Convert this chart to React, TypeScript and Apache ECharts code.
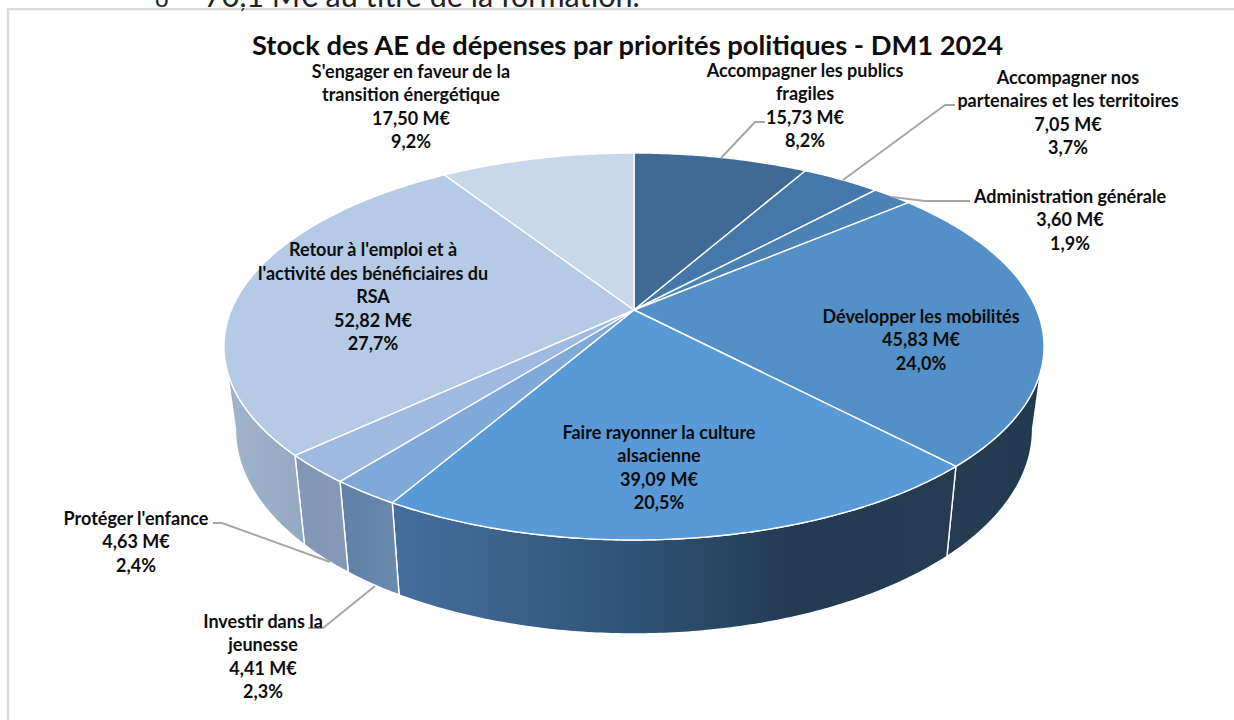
import React, { useEffect, useRef } from "react";
import * as echarts from "echarts";

const titleText = "Stock des AE de dépenses par priorités politiques - DM1 2024";
const headerText = "70,1 M€ au titre de la formation.";

const categories = [
  ["Accompagner les publics", "fragiles"],
  ["Accompagner nos", "partenaires et les territoires"],
  ["Administration générale"],
  ["Développer les mobilités"],
  ["Faire rayonner la culture", "alsacienne"],
  ["Investir dans la", "jeunesse"],
  ["Protéger l'enfance"],
  ["Retour à l'emploi et à", "l'activité des bénéficiaires du", "RSA"],
  ["S'engager en faveur de la", "transition énergétique"],
];
const amounts = [15.73, 7.05, 3.6, 45.83, 39.09, 4.41, 4.63, 52.82, 17.5];
const percents = [8.2, 3.7, 1.9, 24.0, 20.5, 2.3, 2.4, 27.7, 9.2];

const topColors = ["#3e6a94", "#4578a8", "#4c82b5", "#5490c7", "#5999d8", "#7ea9d9", "#9fbae0", "#b5cae5", "#c8d7ea"];
const wallStops: [number, string][][] = [
  [[0, "#233b52"], [1, "#233b52"]],
  [[0, "#233b52"], [1, "#233b52"]],
  [[0, "#233b52"], [1, "#233b52"]],
  [[0, "#253c53"], [1, "#223a50"]],
  [[0, "#446f9d"], [0.43, "#2f5376"], [0.7, "#243c53"], [1, "#243d53"]],
  [[0, "#5f81a7"], [1, "#6a8aae"]],
  [[0, "#8197b6"], [1, "#859ab8"]],
  [[0, "#a3b5cc"], [1, "#94a8c3"]],
  [[0, "#a3b5cc"], [1, "#94a8c3"]],
];

const labelLayout = [
  { x: 805, y: 105 },
  { x: 1068, y: 112 },
  { x: 1070, y: 219 },
  { x: 921, y: 339 },
  { x: 659, y: 467 },
  { x: 263, y: 656 },
  { x: 136, y: 541 },
  { x: 373, y: 296 },
  { x: 411, y: 106 },
];

const leaderLines = [
  [[721, 158], [755, 122], [765, 122]],
  [[843, 180], [945, 105], [955, 105]],
  [[892, 197], [925, 201], [970, 201]],
  [[375, 586], [323, 628], [308, 628]],
  [[330, 562], [222, 523], [213, 523]],
];

const CX = 634;
const CY = 310;
const RX = 402.7;
const RY = 186.6;
const K = 0.1886;
const SHRINK = 0.972;
const WALL_MIN = (Math.PI / 180) * 100.87;
const WALL_MAX = (Math.PI / 180) * 259.13;

function topPoint(t: number): number[] {
  const u = Math.sin(t);
  const v = -Math.cos(t);
  const w = 1 - K * v;
  return [CX + (RX * u) / w, CY + (RY * v) / w];
}
function bottomPoint(t: number): number[] {
  const p = topPoint(t);
  const v = -Math.cos(t);
  return [CX + (p[0] - CX) * SHRINK, p[1] + 80 + 14 * v];
}
function arc(a: number, b: number, f: (t: number) => number[]): number[][] {
  const n = Math.max(2, Math.ceil((b - a) / 0.01));
  const pts: number[][] = [];
  for (let i = 0; i <= n; i++) pts.push(f(a + ((b - a) * i) / n));
  return pts;
}

const total = amounts.reduce((s, v) => s + v, 0);
const starts: number[] = [];
amounts.reduce((acc, v) => {
  starts.push((acc / total) * Math.PI * 2);
  return acc + v;
}, 0);
function angleRange(i: number, value: number): [number, number] {
  return [starts[i], starts[i] + (value / total) * Math.PI * 2];
}

const fr = (v: number, d: number) => v.toFixed(d).replace(".", ",");

export default function App() {
  const ref = useRef<HTMLDivElement>(null);
  useEffect(() => {
    const chart = echarts.init(ref.current!, undefined, { renderer: "svg" });
    const LABEL_FONT = 'bold 18px Lato, "Open Sans", sans-serif';
    const data = amounts.map((v) => [v]);
    chart.setOption({
      animation: false,
      backgroundColor: "#ffffff",
      title: {
        text: titleText,
        left: 622.5,
        top: 26,
        textAlign: "center",
        textStyle: { fontFamily: "Lato", fontWeight: "bold", fontSize: 27.3, color: "#0d0d0d" },
      },
      graphic: [
        {
          type: "rect",
          z: 1,
          shape: { x: 8, y: 9, width: 1240, height: 730 },
          style: { fill: "none", stroke: "#d9d9d9", lineWidth: 2.5 },
        },
        {
          type: "text",
          z: 1,
          x: 155,
          y: 9,
          style: { text: "o", font: "24px Lato", fill: "#222", align: "left", verticalAlign: "bottom" },
        },
        {
          type: "text",
          z: 1,
          x: 204,
          y: 10.5,
          style: { text: headerText, font: "30.5px Lato", fill: "#222", align: "left", verticalAlign: "bottom" },
        },
        {
          type: "rect",
          z: 2,
          shape: { x: 0, y: 7, width: 1234, height: 1 },
          style: { fill: "#ffffff" },
        },
        ...leaderLines.map((points) => ({
          type: "polyline",
          z: 20,
          shape: { points },
          style: { fill: "none", stroke: "#a6a6a6", lineWidth: 2 },
        })),
        ...categories.map((lines, i) => ({
          type: "text",
          z: 30,
          x: labelLayout[i].x,
          y: labelLayout[i].y,
          style: {
            text: [...lines, `${fr(amounts[i], 2)} M€`, `${fr(percents[i], 1)}%`].join("\n"),
            font: LABEL_FONT,
            fill: "#0d0d0d",
            align: "center",
            verticalAlign: "middle",
            lineHeight: 23.5,
          },
        })),
      ],
      series: [
        {
          type: "custom",
          coordinateSystem: "none",
          silent: true,
          z: 2,
          data,
          renderItem: (params: any, api: any) => {
            const i = params.dataIndex;
            const [a0, b0] = angleRange(i, api.value(0));
            const a = Math.max(a0, WALL_MIN);
            const b = Math.min(b0, WALL_MAX);
            if (b <= a) return { type: "group", children: [] };
            const points = [...arc(a, b, topPoint), ...arc(a, b, bottomPoint).reverse()];
            const xs = points.map((p) => p[0]);
            const minX = Math.min(...xs);
            const maxX = Math.max(...xs);
            return {
              type: "polygon",
              shape: { points },
              style: {
                fill: new echarts.graphic.LinearGradient(
                  minX, 0, maxX, 0,
                  wallStops[i].map(([offset, color]) => ({ offset, color })),
                  true
                ),
                stroke: "#ffffff",
                lineWidth: 1.4,
              },
            };
          },
        },
        {
          type: "custom",
          coordinateSystem: "none",
          silent: true,
          z: 3,
          data,
          renderItem: (params: any, api: any) => {
            const i = params.dataIndex;
            const [a, b] = angleRange(i, api.value(0));
            return {
              type: "polygon",
              shape: { points: [[CX, CY], ...arc(a, b, topPoint)] },
              style: { fill: topColors[i], stroke: "#ffffff", lineWidth: 1.4 },
            };
          },
        },
      ],
    });
    return () => chart.dispose();
  }, []);
  return <div ref={ref} style={{ position: "fixed", left: 0, top: 0, width: 1234, height: 720 }} />;
}
